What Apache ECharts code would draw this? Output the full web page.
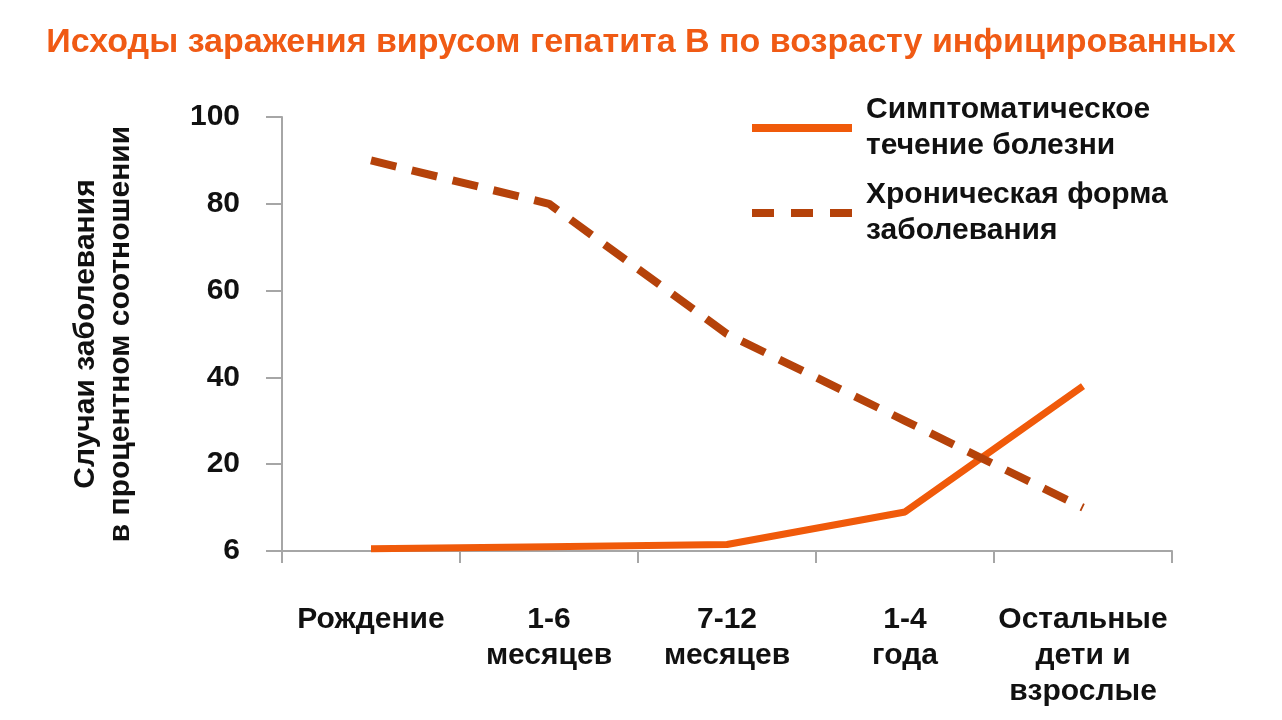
<!DOCTYPE html>
<html>
<head>
<meta charset="utf-8">
<script src="https://cdn.jsdelivr.net/npm/echarts@6/dist/echarts.min.js"></script>
<style>
html,body{margin:0;padding:0;background:#fff;}
#chart{width:1282px;height:720px;}
</style>
</head>
<body>
<div id="chart"></div>
<script>
const titleText = 'Исходы заражения вирусом гепатита В по возрасту инфицированных';
const categories = ['Рождение', '1-6\nмесяцев', '7-12\nмесяцев', '1-4\nгода', 'Остальные\nдети и\nвзрослые'];
const symptomatic = [0.5, 1, 1.5, 9, 38];
const chronic = [90, 80, 50, 30, 10];
const seriesNames = ['Симптоматическое\nтечение болезни', 'Хроническая форма\nзаболевания'];
const yTickLabels = {0: '6', 20: '20', 40: '40', 60: '60', 80: '80', 100: '100'};
const yAxisName = 'Случаи заболевания\nв процентном соотношении';

const FONT = '"Liberation Sans", Arial, sans-serif';
const SOLID_ICON = 'path://M0,0H100V8H0Z';
const DASH_ICON = 'path://M0,0H22V8H0Z M39,0H61V8H39Z M78,0H100V8H78Z';
const chart = echarts.init(document.getElementById('chart'));
chart.setOption({
  animation: false,
  backgroundColor: '#fff',
  title: {
    text: titleText,
    left: 'center',
    top: 21,
    textStyle: {color: '#f05a14', fontSize: 34, fontWeight: 'bold', fontFamily: FONT}
  },
  legend: {
    orient: 'vertical',
    left: 747,
    top: 87,
    itemWidth: 100,
    itemHeight: 8,
    itemGap: 13,
    textStyle: {fontSize: 30, fontWeight: 'bold', fontFamily: FONT, color: '#111', lineHeight: 36, padding: [0,0,0,9]},
    data: [
      {name: seriesNames[0], icon: SOLID_ICON},
      {name: seriesNames[1], icon: DASH_ICON}
    ]
  },
  grid: {left: 282, right: 110, top: 117, bottom: 169, containLabel: false},
  xAxis: {
    type: 'category',
    data: categories,
    boundaryGap: true,
    axisLine: {lineStyle: {color: '#a6a6a6', width: 2}},
    axisTick: {show: true, length: 12, lineStyle: {color: '#a6a6a6', width: 2}},
    axisLabel: {margin: 51, fontSize: 30, fontWeight: 'bold', fontFamily: FONT, color: '#111', lineHeight: 36, interval: 0}
  },
  yAxis: {
    type: 'value',
    min: 0, max: 100, interval: 20,
    name: yAxisName,
    nameLocation: 'middle',
    nameRotate: 90,
    nameGap: 144,
    nameTextStyle: {fontSize: 30, fontWeight: 'bold', fontFamily: FONT, color: '#111', lineHeight: 35},
    axisLine: {show: true, lineStyle: {color: '#a6a6a6', width: 2}},
    axisTick: {show: true, length: 16, lineStyle: {color: '#a6a6a6', width: 2}},
    splitLine: {show: false},
    axisLabel: {margin: 42, fontSize: 30, fontWeight: 'bold', fontFamily: FONT, color: '#111',
      formatter: v => yTickLabels[v] !== undefined ? yTickLabels[v] : ''}
  },
  series: [
    {
      name: seriesNames[0], type: 'line', data: symptomatic, symbol: 'none',
      lineStyle: {color: '#f05a0a', width: 7, cap: 'butt', join: 'round'},
      itemStyle: {color: '#f05a0a'}
    },
    {
      name: seriesNames[1], type: 'line', data: chronic, symbol: 'none',
      lineStyle: {color: '#b5420a', width: 8, type: [26, 16], cap: 'butt'},
      itemStyle: {color: '#b5420a'}
    }
  ]
});
</script>
</body>
</html>
